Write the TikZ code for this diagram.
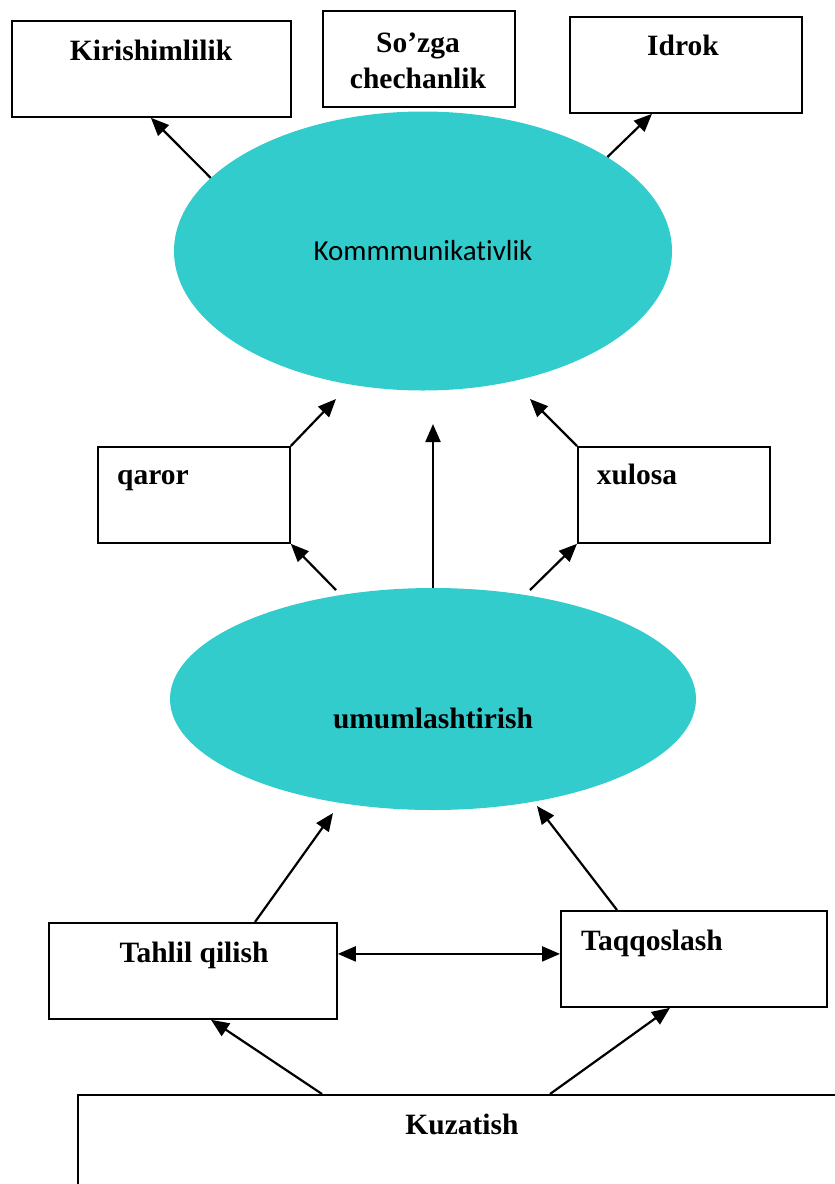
\documentclass[tikz,border=0pt]{standalone}
\usepackage{fontspec}
\setmainfont{Liberation Serif}
\newfontfamily\carl[Ligatures=NoCommon]{Carlito}
\usetikzlibrary{arrows.meta,shapes.geometric}
\definecolor{turq}{HTML}{33CCCC}
\tikzset{
  box/.style={draw, line width=1.8pt, rectangle, anchor=north west, inner sep=0pt},
  oval/.style={ellipse, fill=turq, draw=none, inner sep=0pt},
  lbl/.style={font=\fontsize{29.5}{36}\selectfont\bfseries, anchor=base, inner sep=0pt, align=center},
  arr/.style={line width=2.2pt, -{Triangle[length=18pt,width=15pt]}},
  darr/.style={line width=2.2pt, {Triangle[length=18pt,width=15pt]}-{Triangle[length=18pt,width=15pt]}}
}
\begin{document}
\begin{tikzpicture}[x=1pt,y=-1pt]
\useasboundingbox (0,0) rectangle (835,1184);
\clip (0,0) rectangle (835,1184);
% boxes
\node[box, minimum width=279pt, minimum height=96pt] (kir) at (11,20) {};
\node[box, minimum width=192pt, minimum height=96pt] (soz) at (322,10) {};
\node[box, minimum width=232pt, minimum height=96pt] (idr) at (569,16) {};
\node[box, minimum width=192pt, minimum height=96pt] (qar) at (97,446) {};
\node[box, minimum width=192pt, minimum height=96pt] (xul) at (577,446) {};
\node[box, minimum width=288pt, minimum height=96pt] (tah) at (48,922) {};
\node[box, minimum width=266pt, minimum height=96pt] (taq) at (560,910) {};
\node[box, minimum width=823pt, minimum height=160pt] (kuz) at (77,1094) {};
% ellipses
\node[oval, minimum width=498pt, minimum height=279pt] (kom) at (423,251) {};
\node[oval, minimum width=526pt, minimum height=222pt] (umu) at (433,699) {};
% labels
\node[lbl] (tkir) at (151,60) {Kirishimlilik};
\node[lbl] (tsoz) at (418,88) {So’zga\\chechanlik};
\node[lbl] (tidr) at (683,55) {Idrok};
\node[font=\carl\fontsize{29}{34}\selectfont, anchor=base, inner sep=0pt] (tkom) at (423,260) {Kommmunikativlik};
\node[lbl] (tqar) at (153,484) {qaror};
\node[lbl] (txul) at (637,484) {xulosa};
\node[lbl] (tumu) at (433,728) {umumlashtirish};
\node[lbl] (ttah) at (194,962) {Tahlil qilish};
\node[lbl] (ttaq) at (652,950) {Taqqoslash};
\node[lbl] (tkuz) at (462,1134) {Kuzatish};
% free arrow ends
\coordinate (e1) at (336,399);
\coordinate (e2) at (530,399);
\coordinate (e3) at (433,424);
\coordinate (e4) at (333,813);
\coordinate (e5) at (537,806);
\coordinate (s1) at (336,590);
\coordinate (s2) at (530,590);
% arrows
\draw[arr] (kom.161) -- ([xshift=-0.5pt]kir.south);
\draw[arr] (kom.27) -- ([xshift=83pt]idr.south west);
\draw[arr] (qar.north east) -- (e1);
\draw[arr] (xul.north west) -- (e2);
\draw[arr] (umu.north) -- (e3);
\draw[arr] (s1) -- (qar.south east);
\draw[arr] (s2) -- (xul.south west);
\draw[arr] ([xshift=207pt]tah.north west) -- (e4);
\draw[arr] ([xshift=57pt]taq.north west) -- (e5);
\draw[darr] ([yshift=17pt]tah.east) -- ([yshift=5pt]taq.west);
\draw[arr] ([xshift=245pt]kuz.north west) -- ([xshift=163pt]tah.south west);
\draw[arr] ([xshift=473pt]kuz.north west) -- ([xshift=110pt]taq.south west);
\end{tikzpicture}
\end{document}
